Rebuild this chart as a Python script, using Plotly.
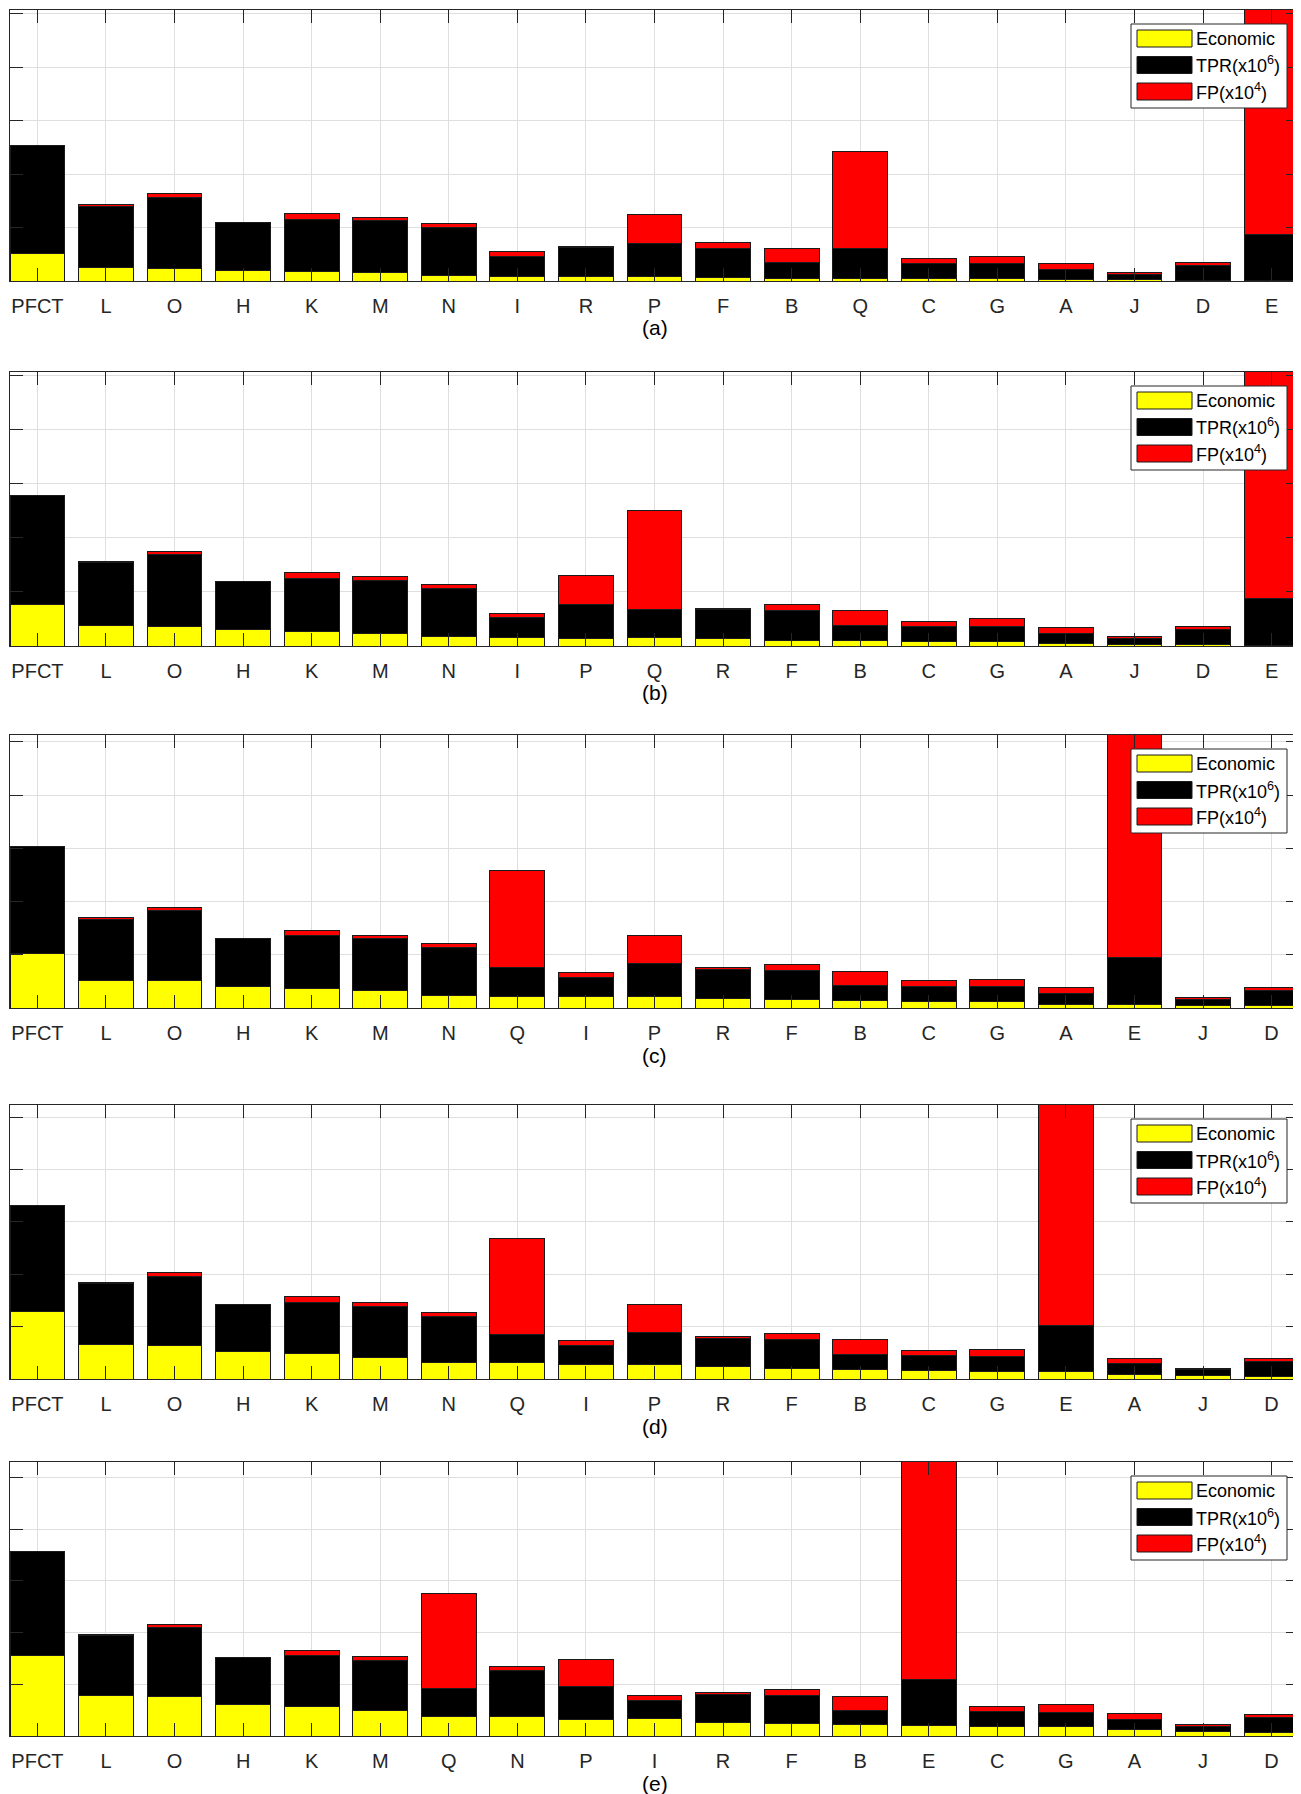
import plotly.graph_objects as go
from plotly.subplots import make_subplots

# ---- data (heights in y-tick units) ----
cats_a = ["PFCT", "L", "O", "H", "K", "M", "N", "I", "R", "P", "F", "B", "Q", "C", "G", "A", "J", "D", "E"]
eco_a = [0.51, 0.25, 0.24, 0.19, 0.175, 0.15, 0.11, 0.09, 0.08, 0.08, 0.06, 0.055, 0.055, 0.05, 0.045, 0.025, 0.02, 0.012, 0.01]
tpr_a = [2.02, 1.15, 1.32, 0.91, 0.975, 0.98, 0.89, 0.37, 0.545, 0.62, 0.55, 0.285, 0.545, 0.28, 0.275, 0.195, 0.10, 0.278, 0.86]
fp_a = [0.0, 0.04, 0.07, 0.0, 0.12, 0.06, 0.07, 0.10, 0.025, 0.54, 0.115, 0.27, 1.83, 0.095, 0.14, 0.11, 0.035, 0.05, 6.0]

cats_b = ["PFCT", "L", "O", "H", "K", "M", "N", "I", "P", "Q", "R", "F", "B", "C", "G", "A", "J", "D", "E"]
eco_b = [0.77, 0.38, 0.37, 0.30, 0.27, 0.235, 0.17, 0.155, 0.14, 0.15, 0.13, 0.11, 0.10, 0.08, 0.08, 0.045, 0.03, 0.025, 0.01]
tpr_b = [2.01, 1.16, 1.33, 0.90, 0.98, 0.985, 0.90, 0.365, 0.625, 0.53, 0.54, 0.54, 0.28, 0.29, 0.28, 0.195, 0.105, 0.275, 0.87]
fp_b = [0.0, 0.03, 0.05, 0.0, 0.11, 0.06, 0.07, 0.09, 0.535, 1.83, 0.03, 0.115, 0.27, 0.09, 0.14, 0.11, 0.035, 0.06, 6.0]

cats_c = ["PFCT", "L", "O", "H", "K", "M", "N", "Q", "I", "P", "R", "F", "B", "C", "G", "A", "E", "J", "D"]
eco_c = [1.03, 0.52, 0.51, 0.41, 0.375, 0.325, 0.24, 0.225, 0.21, 0.21, 0.18, 0.16, 0.14, 0.13, 0.125, 0.075, 0.07, 0.05, 0.04]
tpr_c = [2.01, 1.15, 1.32, 0.90, 0.985, 0.975, 0.89, 0.535, 0.365, 0.63, 0.545, 0.55, 0.28, 0.28, 0.275, 0.20, 0.88, 0.105, 0.285]
fp_c = [0.0, 0.04, 0.06, 0.0, 0.10, 0.07, 0.08, 1.83, 0.10, 0.52, 0.035, 0.115, 0.27, 0.10, 0.14, 0.115, 6.0, 0.035, 0.055]

cats_d = ["PFCT", "L", "O", "H", "K", "M", "N", "Q", "I", "P", "R", "F", "B", "C", "G", "E", "A", "J", "D"]
eco_d = [1.29, 0.66, 0.64, 0.52, 0.48, 0.41, 0.31, 0.31, 0.27, 0.27, 0.23, 0.20, 0.185, 0.165, 0.15, 0.14, 0.095, 0.07, 0.05]
tpr_d = [2.03, 1.16, 1.32, 0.90, 0.98, 0.98, 0.89, 0.54, 0.37, 0.62, 0.55, 0.55, 0.285, 0.285, 0.28, 0.885, 0.205, 0.115, 0.29]
fp_d = [0.0, 0.03, 0.07, 0.0, 0.11, 0.07, 0.07, 1.84, 0.09, 0.54, 0.03, 0.11, 0.275, 0.09, 0.14, 6.0, 0.10, 0.025, 0.055]

cats_e = ["PFCT", "L", "O", "H", "K", "M", "Q", "N", "P", "I", "R", "F", "B", "E", "C", "G", "A", "J", "D"]
eco_e = [1.55, 0.78, 0.77, 0.61, 0.57, 0.49, 0.38, 0.37, 0.32, 0.33, 0.27, 0.245, 0.225, 0.21, 0.19, 0.19, 0.12, 0.085, 0.065]
tpr_e = [2.02, 1.17, 1.33, 0.91, 0.98, 0.98, 0.54, 0.89, 0.635, 0.36, 0.54, 0.545, 0.275, 0.88, 0.29, 0.27, 0.19, 0.105, 0.285]
fp_e = [0.0, 0.02, 0.05, 0.0, 0.11, 0.07, 1.84, 0.08, 0.525, 0.09, 0.04, 0.11, 0.27, 6.0, 0.09, 0.15, 0.12, 0.04, 0.06]

panel_labels = ["(a)", "(b)", "(c)", "(d)", "(e)"]
series_names = ["Economic", "TPR(x10<sup>6</sup>)", "FP(x10<sup>4</sup>)"]
series_colors = ["#ffff00", "#000000", "#ff0000"]

panels = [
    (cats_a, eco_a, tpr_a, fp_a),
    (cats_b, eco_b, tpr_b, fp_b),
    (cats_c, eco_c, tpr_c, fp_c),
    (cats_d, eco_d, tpr_d, fp_d),
    (cats_e, eco_e, tpr_e, fp_e),
]
y_tops = [5.07, 5.07, 5.13, 5.23, 5.30]

# ---- layout: pixel positions measured on the page, the page body has an 8px margin ----
OFF = 8
W, H = 1301 - OFF, 1794 - OFF
X0, X1 = 10, 1299
panel_px = [(10, 281), (372, 646), (735, 1008), (1105, 1379), (1462, 1736)]
AX = "#262626"
GRID = "#dfdfdf"
FONT = "Liberation Sans, Arial, Helvetica, sans-serif"


def px_x(x):
    return (x - OFF) / W


def px_y(y):
    return (H - (y - OFF)) / H


fig = make_subplots(rows=5, cols=1)

for i, (cats, eco, tpr, fp) in enumerate(panels):
    for name, vals, color in zip(series_names, (eco, tpr, fp), series_colors):
        fig.add_trace(
            go.Bar(
                x=cats,
                y=vals,
                name=name,
                width=0.8,
                marker=dict(color=color, line=dict(color="#1a1a1a", width=1)),
                showlegend=False,
            ),
            row=i + 1,
            col=1,
        )

    top, bot = panel_px[i]
    n = "" if i == 0 else str(i + 1)
    fig.layout["xaxis" + n].update(
        domain=[px_x(X0), px_x(X1)],
        type="category",
        categoryorder="array",
        categoryarray=cats,
        range=[-0.4, len(cats) - 0.6],
        showline=True,
        linecolor=AX,
        linewidth=1,
        mirror="ticks",
        ticks="inside",
        ticklen=13,
        tickwidth=1,
        tickcolor=AX,
        showgrid=True,
        gridcolor=GRID,
        tickfont=dict(family=FONT, size=20, color=AX),
        ticklabelstandoff=7,
    )
    fig.layout["yaxis" + n].update(
        domain=[px_y(bot), px_y(top)],
        range=[0, y_tops[i]],
        tickvals=[0, 1, 2, 3, 4, 5],
        showticklabels=False,
        showline=True,
        linecolor=AX,
        linewidth=1,
        mirror="ticks",
        ticks="inside",
        ticklen=13,
        tickwidth=1,
        tickcolor=AX,
        showgrid=True,
        gridcolor=GRID,
        zeroline=False,
    )

    # panel caption
    fig.add_annotation(
        x=px_x((X0 + X1) / 2),
        y=px_y(bot + 47),
        xref="paper",
        yref="paper",
        text=panel_labels[i],
        showarrow=False,
        font=dict(family=FONT, size=21, color="#000000"),
        xanchor="center",
        yanchor="middle",
    )

    # legend box (MATLAB style, wide swatches)
    lx0, lx1 = 1131, 1287
    ly0, ly1 = top + 14, top + 98
    fig.add_shape(
        type="rect",
        xref="paper",
        yref="paper",
        x0=px_x(lx0),
        x1=px_x(lx1),
        y0=px_y(ly1),
        y1=px_y(ly0),
        fillcolor="white",
        line=dict(color=AX, width=1),
        layer="above",
    )
    for k, (name, color) in enumerate(zip(series_names, series_colors)):
        cy = top + 28.5 + k * 26.5
        fig.add_shape(
            type="rect",
            xref="paper",
            yref="paper",
            x0=px_x(1137),
            x1=px_x(1192),
            y0=px_y(cy + 8.5),
            y1=px_y(cy - 8.5),
            fillcolor=color,
            line=dict(color="#1a1a1a", width=1),
            layer="above",
        )
        fig.add_annotation(
            x=px_x(1194),
            y=px_y(cy),
            xref="paper",
            yref="paper",
            text=name,
            showarrow=False,
            font=dict(family=FONT, size=18, color="#000000"),
            xanchor="left",
            yanchor="middle",
        )

fig.update_layout(
    width=W,
    height=H,
    autosize=False,
    barmode="stack",
    bargap=0.2,
    margin=dict(l=0, r=0, t=0, b=0),
    paper_bgcolor="white",
    plot_bgcolor="white",
    showlegend=False,
)

fig.write_html("out.html")
